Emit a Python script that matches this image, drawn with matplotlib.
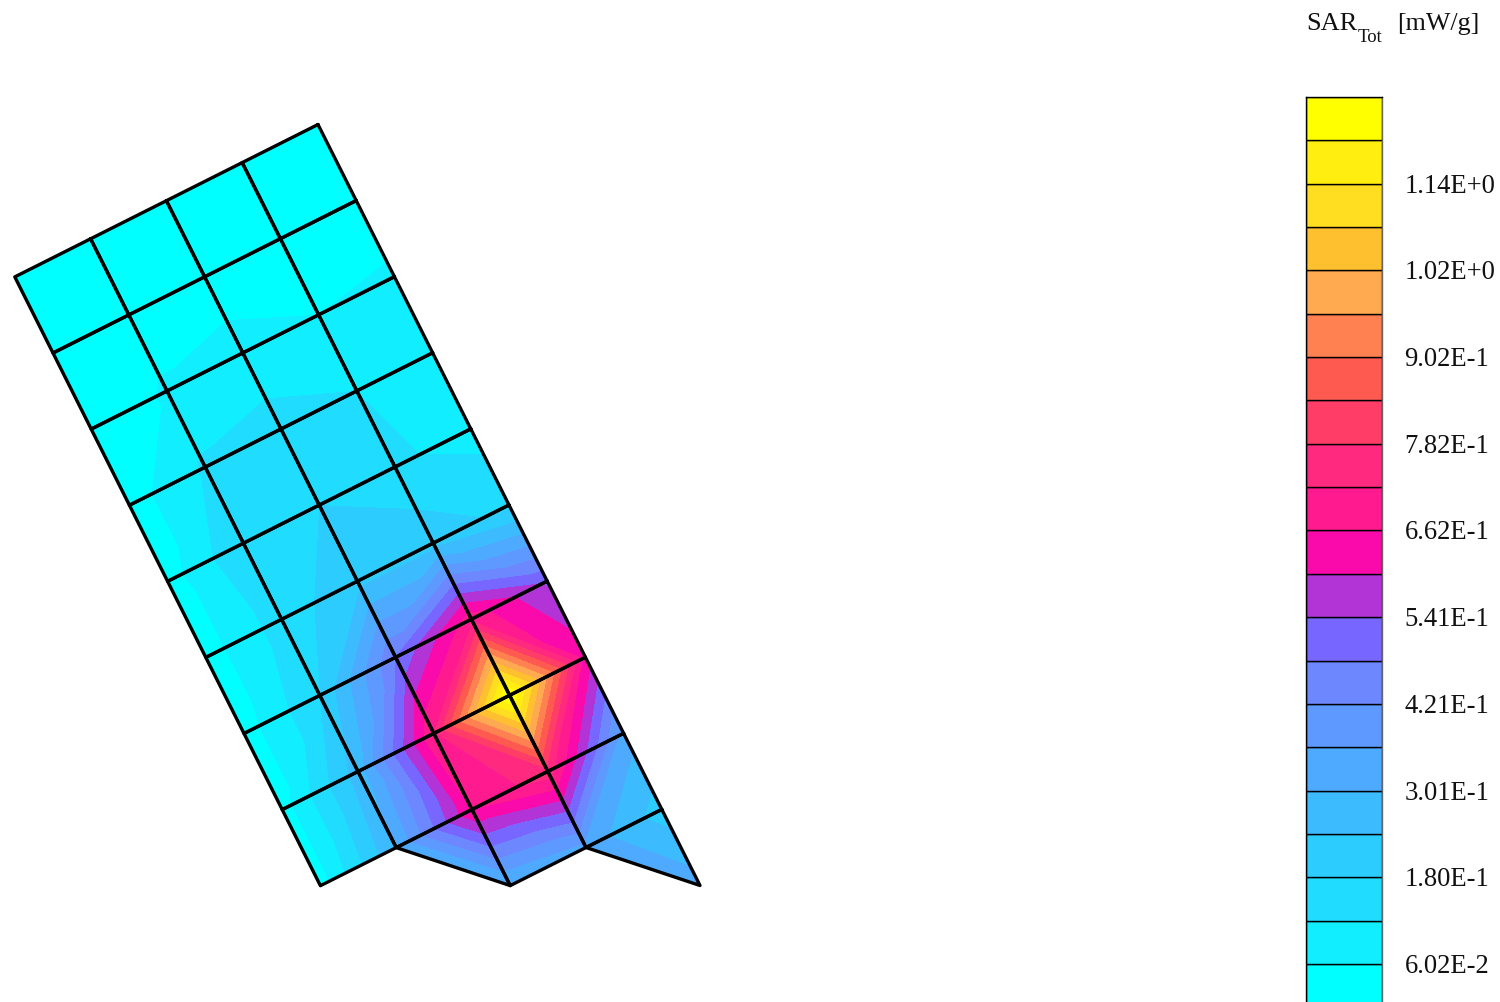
import numpy as np
import matplotlib
matplotlib.use('Agg')
import matplotlib.pyplot as plt
from matplotlib.colors import ListedColormap, BoundaryNorm
from matplotlib.transforms import ScaledTranslation
from matplotlib.tri import Triangulation

plt.rcParams['font.family'] = ['Liberation Serif', 'DejaVu Serif']

# SAR at the mesh nodes [mW/g], rows along the long side, nan = no node
sar_rows = [
    [0.03, 0.03, 0.03, 0.03, 0.03],
    [0.04, 0.04, 0.04, 0.04, 0.03],
    [0.065, 0.06, 0.075, 0.065, 0.03],
    [0.09, 0.12, 0.15, 0.13, 0.03],
    [0.10, 0.13, 0.18, 0.18, 0.03],
    [0.16, 0.22, 0.22, 0.15, 0.03],
    [0.53, 0.70, 0.48, 0.18, 0.03],
    [0.64, 1.27, 0.72, 0.27, 0.03],
    [0.33, 0.76, 0.66, 0.30, 0.03],
    [0.21, 0.34, 0.29, np.nan, np.nan],
    [0.33, np.nan, np.nan, np.nan, np.nan],
]

level_step = 0.0602
band_colors = ['#00ffff', '#10eeff', '#20ddff', '#2dccff', '#3dbbff', '#4daaff',
               '#5d99ff', '#6d88ff', '#7766ff', '#b233d6', '#fa0aaa', '#ff1a90',
               '#ff2a7f', '#ff3d66', '#ff5a50', '#ff8050', '#ffaa50', '#ffc030',
               '#ffdd20', '#ffee10', '#ffff00']
tick_labels = ['6.02E-2', '1.80E-1', '3.01E-1', '4.21E-1', '5.41E-1',
               '6.62E-1', '7.82E-1', '9.02E-1', '1.02E+0', '1.14E+0']

levels = level_step * np.arange(len(band_colors) + 1)
cmap = ListedColormap(band_colors)
norm = BoundaryNorm(levels, cmap.N)

sar = np.array(sar_rows)
nrow, ncol = sar.shape

# mesh is a skewed grid, corner and cell vectors in pixels
origin = np.array([318.0, 125.5])
col_vec = np.array([-75.8, 38.1])
row_vec = np.array([38.2, 76.1])


def pos(i, j):
    return origin + i * col_vec + j * row_vec


fig = plt.figure(figsize=(15, 10.03), dpi=100)
ax = fig.add_axes([0, 0, 1, 1])
ax.set_xlim(0, 1500)
ax.set_ylim(1003, 0)
ax.axis('off')

ids = -np.ones(sar.shape, dtype=int)
xs, ys, zs = [], [], []
for j in range(nrow):
    for i in range(ncol):
        if not np.isnan(sar[j, i]):
            ids[j, i] = len(xs)
            p = pos(i, j)
            xs.append(p[0])
            ys.append(p[1])
            zs.append(sar[j, i])

tris = []
outlines = []
for j in range(nrow - 1):
    for i in range(ncol - 1):
        a, b, c, d = (i, j), (i + 1, j), (i + 1, j + 1), (i, j + 1)
        have = [k for k in (a, b, c, d) if ids[k[1], k[0]] >= 0]
        if len(have) == 4:
            # split along the diagonal whose ends are closest in value
            if abs(sar[j, i] - sar[j + 1, i + 1]) < abs(sar[j, i + 1] - sar[j + 1, i]):
                pairs = [(a, b, c), (a, c, d)]
            else:
                pairs = [(a, b, d), (b, c, d)]
            for t in pairs:
                tris.append([ids[k[1], k[0]] for k in t])
            outlines.append([a, b, c, d, a])
        elif len(have) == 3:
            tris.append([ids[k[1], k[0]] for k in have])
            outlines.append(have + [have[0]])

tri = Triangulation(xs, ys, tris)
ax.tricontourf(tri, zs, levels=levels, cmap=cmap, norm=norm, antialiased=False)
for loop in outlines:
    pts = np.array([pos(*k) for k in loop])
    ax.plot(pts[:, 0], pts[:, 1], c='k', lw=2.4, solid_capstyle='round')

# colour key, cut by the lower edge of the figure
cax = fig.add_axes([1306 / 1500, -1 / 1003, 76 / 1500, 906 / 1003])
cax.bar(0.5 * np.ones(len(band_colors)), np.diff(levels), width=1, bottom=levels[:-1],
        color=band_colors, edgecolor='k', linewidth=1.0)
cax.set_xlim(0, 1)
cax.set_ylim(0.1 * level_step, levels[-1])
cax.set_xticks([])
cax.yaxis.tick_right()
cax.set_yticks(levels[1:-1:2])
cax.set_yticklabels(tick_labels, fontsize=19.2, color='#111111')
cax.tick_params(axis='y', length=0, pad=16.2)
nudge = ScaledTranslation(0, 1.5 / 100, fig.dpi_scale_trans)
for lab in cax.get_yticklabels():
    lab.set_transform(lab.get_transform() + nudge)
for s in ['top', 'left']:
    cax.spines[s].set_linewidth(1.0)
cax.spines['bottom'].set_visible(False)
cax.spines['right'].set_color('#666666')
cax.spines['right'].set_linewidth(1.0)

# heading
ax.text(1306, 24, 'SAR', fontsize=19, va='center', ha='left', color='#111111')
ax.text(1358, 37, 'Tot', fontsize=13.5, va='center', ha='left', color='#111111')
ax.text(1397, 24, '[mW/g]', fontsize=18.7, va='center', ha='left', color='#111111')

fig.savefig('out.png', dpi=100)
